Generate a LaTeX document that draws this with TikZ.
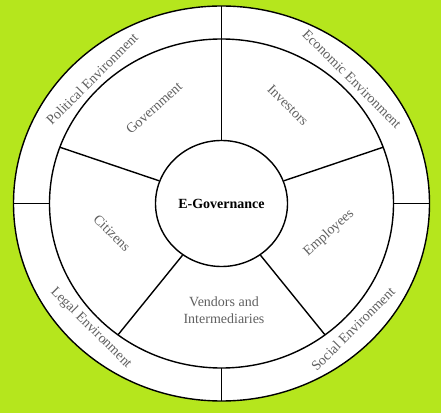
\documentclass[tikz,border=0pt]{standalone}
\usepackage{fontspec}
\setmainfont{Liberation Serif}
\usetikzlibrary{shapes.geometric}
\definecolor{bggreen}{RGB}{181,230,29}
\definecolor{labelgray}{RGB}{96,96,96}

\begin{document}
\begin{tikzpicture}[x=0.75pt,y=0.75pt,line width=1.05pt,
		ring/.style={draw,fill=white},
		lbl/.style={text=labelgray,font=\fontsize{10.5}{12.5}\selectfont,inner sep=0pt}]
	\fill[bggreen] (-221.5,-209.5) rectangle (219.5,203.5);
	
	\draw[ring] (0,0) ellipse [x radius=208,y radius=197.5];
	\draw[ring] (0,0) ellipse [x radius=172,y radius=164.5];
	\node[draw,ellipse,fill=white,minimum width=99pt,minimum height=94.5pt,inner sep=0pt,
		font=\fontsize{10.5}{12.5}\selectfont\bfseries] (core) at (0,0){E-Governance};
	
	\coordinate (o90) at (90:208 and 197.5);
	\coordinate (o180) at (180:208 and 197.5);
	\coordinate (o270) at (270:208 and 197.5);
	\coordinate (o0) at (0:208 and 197.5);
	\coordinate (m90) at (90:172 and 164.5);
	\coordinate (m180) at (180:172 and 164.5);
	\coordinate (m270) at (270:172 and 164.5);
	\coordinate (m0) at (0:172 and 164.5);
	\coordinate (m160) at (160:172 and 164.5);
	\coordinate (m233) at (233:172 and 164.5);
	\coordinate (m307) at (307:172 and 164.5);
	\coordinate (m20) at (20:172 and 164.5);
	
	\draw (o90) -- (core.90);
	\draw (o180) -- (m180);
	\draw (o270) -- (m270);
	\draw (o0) -- (m0);
	\draw (m160) -- (core.160);
	\draw (m233) -- (core.233);
	\draw (m307) -- (core.307);
	\draw (m20) -- (core.20);
	
	\node[lbl,rotate=45] (political) at (-129.5,124.5){Political Environment};
	\node[lbl,rotate=-45] (economic) at (130.5,124.5){Economic Environment};
	\node[lbl,rotate=-45] (legal) at (-130.5,-124.5){Legal Environment};
	\node[lbl,rotate=45] (social) at (131.5,-125.5){Social Environment};
	
	\node[lbl,rotate=42] (government) at (-67.5,95.5){Government};
	\node[lbl,rotate=-45] (investors) at (66.5,98.5){Investors};
	\node[lbl,rotate=-45] (citizens) at (-109.5,-29.5){Citizens};
	\node[lbl,rotate=42] (employees) at (107.5,-29.5){Employees};
	\node[lbl,align=center] (vendors) at (2.5,-106.5){Vendors and\\Intermediaries};
\end{tikzpicture}
\end{document}
